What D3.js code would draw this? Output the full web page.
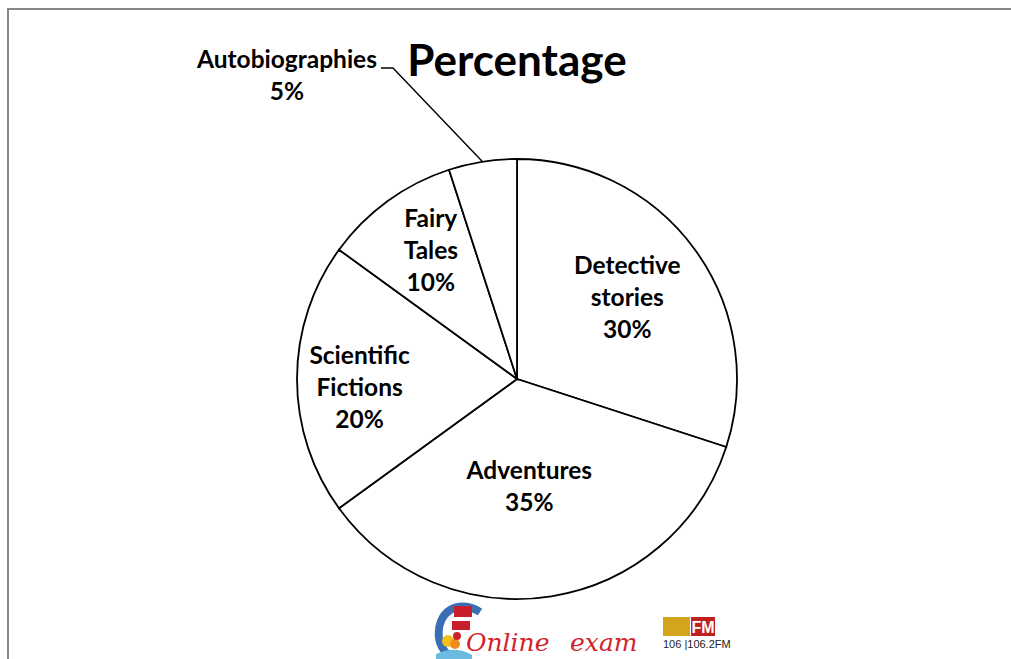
<!DOCTYPE html>
<html>
<head>
<meta charset="utf-8">
<script src="https://cdn.jsdelivr.net/npm/d3@7/dist/d3.min.js"></script>
<style>
    body { margin: 0; background: #fff; }
    svg { display: block; }
    .slice { fill: #fff; stroke: #000; stroke-width: 1.8px; }
    .label { font-family: Lato, "Open Sans", sans-serif; font-weight: bold; font-size: 24.5px; fill: #000; }
    .title { font-family: Lato, "Open Sans", sans-serif; font-weight: bold; font-size: 44px; fill: #000; }
</style>
</head>
<body>
<div id="chart"></div>
<script>
// chart values
const categories = ["Detective stories", "Adventures", "Scientific Fictions", "Fairy Tales", "Autobiographies"];
const percentages = [30, 35, 20, 10, 5];
const chartTitle = "Percentage";

const width = 1011;
const height = 659;
const cx = 517, cy = 379, radius = 220;

const svg = d3.select("#chart")
    .append("svg")
    .attr("width", width)
    .attr("height", height);

// chart area border (only top and left edges are inside the picture)
svg.append("rect")
    .attr("x", 8)
    .attr("y", 9)
    .attr("width", 1200)
    .attr("height", 900)
    .attr("fill", "none")
    .attr("stroke", "#878787")
    .attr("stroke-width", 2);

svg.append("text")
    .attr("class", "title")
    .attr("x", cx)
    .attr("y", 76)
    .attr("text-anchor", "middle")
    .text(chartTitle);

const pieData = categories.map((c, i) => ({ name: c, value: percentages[i] }));

const pie = d3.pie()
    .value(d => d.value)
    .sort(null);

const arcs = pie(pieData);

const arc = d3.arc().innerRadius(0).outerRadius(radius);
const edgeArc = d3.arc().innerRadius(radius).outerRadius(radius);
const labelArc = d3.arc().innerRadius(radius * 0.62).outerRadius(radius * 0.62);

const g = svg.append("g")
    .attr("transform", `translate(${cx},${cy})`);

g.selectAll(".slice")
    .data(arcs)
    .enter()
    .append("path")
    .attr("class", "slice")
    .attr("d", arc);

// label placement tweaks, like excel's best fit
const lineGap = 32;
const nudge = {
    "Detective stories": [0, 0],
    "Adventures": [-9, -26],
    "Scientific Fictions": [-21, 9],
    "Fairy Tales": [-6, -17]
};

arcs.forEach(d => {
    const name = d.data.name;
    const pct = d.data.value + "%";
    if (nudge[name]) {
        const c = labelArc.centroid(d);
        const words = name.split(" ");
        const lines = words.concat([pct]);
        const x = c[0] + nudge[name][0];
        const midY = c[1] + nudge[name][1];
        const firstBase = midY - (lines.length - 1) * lineGap / 2 + 7.5;
        const t = g.append("text")
            .attr("class", "label")
            .attr("text-anchor", "middle");
        lines.forEach((ln, i) => {
            t.append("tspan")
                .attr("x", x)
                .attr("y", firstBase + i * lineGap)
                .text(ln);
        });
    } else {
        // outside label with leader line
        const p = edgeArc.centroid(d);
        const lx = -230, firstBase = 68 - cy;
        const t = g.append("text")
            .attr("class", "label")
            .attr("text-anchor", "middle");
        [name, pct].forEach((ln, i) => {
            t.append("tspan")
                .attr("x", lx)
                .attr("y", firstBase + i * lineGap)
                .text(ln);
        });
        const w = t.select("tspan").node().getComputedTextLength();
        const x0 = lx + w / 2 + 4;
        g.append("path")
            .attr("d", d3.line()([[x0, firstBase], [x0 + 12, firstBase], [p[0], p[1]]]))
            .attr("fill", "none")
            .attr("stroke", "#000")
            .attr("stroke-width", 1.4);
    }
});

// footer logo (rough)
const logo = svg.append("g");
logo.append("path")
    .attr("d", "M480,612 C458,598 436,612 439,638 C441,652 452,660 468,662")
    .attr("fill", "none")
    .attr("stroke", "#3a6fb5")
    .attr("stroke-width", 8);
logo.append("rect").attr("x", 454).attr("y", 606).attr("width", 18).attr("height", 11).attr("fill", "#c8202a");
logo.append("rect").attr("x", 452).attr("y", 621).attr("width", 18).attr("height", 9).attr("fill", "#c8202a");
logo.append("circle").attr("cx", 448).attr("cy", 641).attr("r", 6).attr("fill", "#f2c21b");
logo.append("circle").attr("cx", 455).attr("cy", 644).attr("r", 5).attr("fill", "#f08a1c");
logo.append("circle").attr("cx", 457).attr("cy", 636).attr("r", 4).attr("fill", "#d0202a");
logo.append("path")
    .attr("d", "M436,654 Q455,645 472,655 L472,662 L436,662 Z")
    .attr("fill", "#6bbbe0");
logo.append("text")
    .attr("x", 466)
    .attr("y", 651)
    .attr("font-family", "DejaVu Serif, serif")
    .attr("font-style", "italic")
    .attr("font-size", 25)
    .attr("fill", "#d2232a")
    .text("Online");
logo.append("text")
    .attr("x", 570)
    .attr("y", 651)
    .attr("font-family", "DejaVu Serif, serif")
    .attr("font-style", "italic")
    .attr("font-size", 25)
    .attr("fill", "#d2232a")
    .text("exam");
logo.append("rect").attr("x", 663).attr("y", 617).attr("width", 27).attr("height", 19).attr("fill", "#d4a51c");
logo.append("rect").attr("x", 691).attr("y", 617).attr("width", 24).attr("height", 19).attr("fill", "#c0211f");
logo.append("text")
    .attr("x", 703).attr("y", 633)
    .attr("text-anchor", "middle")
    .attr("font-family", "Liberation Sans, sans-serif")
    .attr("font-weight", "bold")
    .attr("font-size", 16)
    .attr("fill", "#fff")
    .text("FM");
logo.append("text")
    .attr("x", 663).attr("y", 648)
    .attr("font-family", "Liberation Sans Narrow, Liberation Sans, sans-serif")
    .attr("font-size", 11)
    .attr("fill", "#222")
    .text("106 |106.2FM");
</script>
</body>
</html>
